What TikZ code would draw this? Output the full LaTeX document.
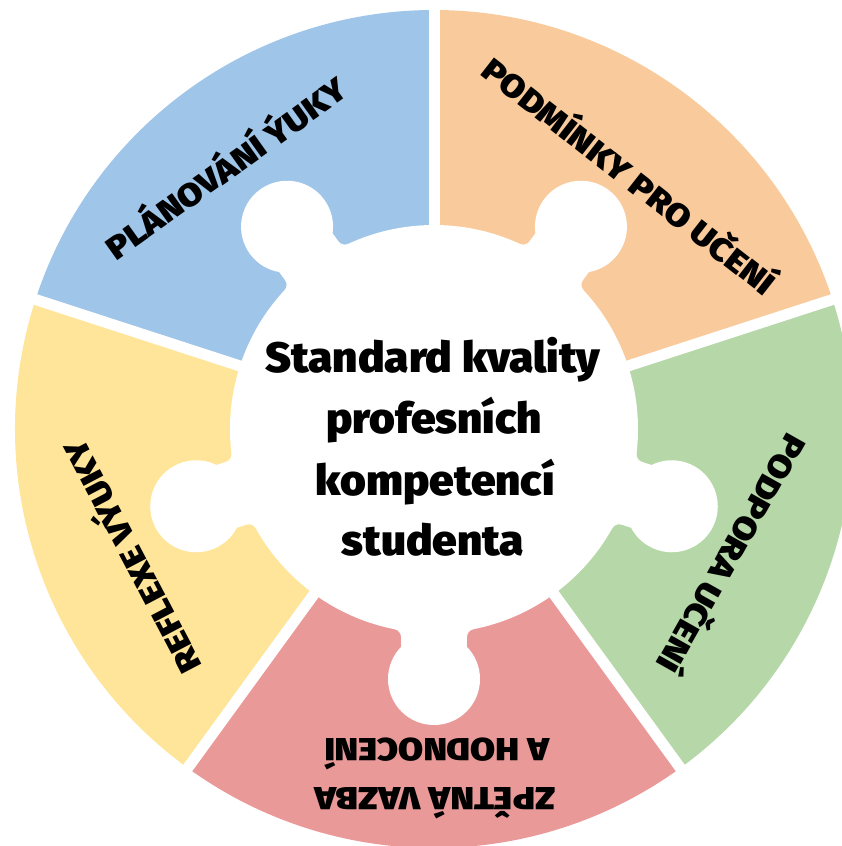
\documentclass[tikz,border=0pt]{standalone}
\usepackage{graphicx}
\usepackage{fontspec}
\IfFontExistsTF{Fira Sans Black}{\newfontfamily\hvfont{Fira Sans Black}}{%
  \IfFontExistsTF{Fira Sans Heavy}{\newfontfamily\hvfont{Fira Sans Heavy}}{%
    \newfontfamily\hvfont{Fira Sans}[UprightFont=* Bold]}}
\definecolor{cblue}{HTML}{9FC5E8}
\definecolor{corange}{HTML}{F9CB9C}
\definecolor{cgreen}{HTML}{B6D7A8}
\definecolor{cpink}{HTML}{EA9999}
\definecolor{cyellow}{HTML}{FFE599}
\newcommand{\wide}[1]{\scalebox{1.13}[1]{#1}}
\newcommand{\cwide}[1]{\scalebox{1.04}[1]{#1}}
\tikzset{
  lab/.style={font=\hvfont\fontsize{32}{32}\selectfont, inner sep=0pt, text height=22pt, text depth=0pt},
  ctr/.style={font=\hvfont\fontsize{42.5}{42.5}\selectfont, inner sep=0pt, anchor=base},
  gapline/.style={white, line width=11pt},
}
\begin{document}
\begin{tikzpicture}[x=1pt,y=1pt]
\useasboundingbox (0,0) rectangle (842,-846);
\clip (0,0) rectangle (842,-846);
\begin{scope}[shift={(434,-429)}]
\coordinate (O) at (0,0);
\fill[cblue]   (O) -- (90:419)   arc[start angle=90,  end angle=162,  radius=419] -- cycle;
\fill[corange] (O) -- (18:419)   arc[start angle=18,  end angle=90,   radius=419] -- cycle;
\fill[cgreen]  (O) -- (-54:419)  arc[start angle=-54, end angle=18,   radius=419] -- cycle;
\fill[cpink]   (O) -- (-126:419) arc[start angle=-126,end angle=-54,  radius=419] -- cycle;
\fill[cyellow] (O) -- (162:419)  arc[start angle=162, end angle=234,  radius=419] -- cycle;
\foreach \b in {90,18,-54,-126,162} \draw[gapline] (O) -- (\b:440);
\fill[white] (O) circle[radius=204];
\foreach \a in {126,54,-18,-90,-162}{
  \begin{scope}[rotate=\a]
    \fill[white] (250,0) circle[radius=46];
    \fill[white] (150,-33) rectangle (250,33);
    \fill[white] (195,33) -- (208,33) arc[start angle=270,end angle=191.2,radius=8] -- cycle;
    \fill[white] (195,-33) -- (208,-33) arc[start angle=90,end angle=168.8,radius=8] -- cycle;
  \end{scope}}
\end{scope}
\node[lab, rotate=35.5] (l1) at (227,-169) {\wide{PLÁNOVÁNÍ ÝUKY}};
\node[lab, rotate=-38] (l2) at (628.4,-176.7) {\wide{PODMÍNKY PRO UČENÍ}};
\node[lab, rotate=-119.4] (l3) at (731,-553) {\wide{PODPORA UČENÍ}};
\node[lab, rotate=180] (l4a) at (435,-798) {\wide{ZPĚTNÁ VAZBA}};
\node[lab, rotate=180] (l4b) at (437,-749.7) {\wide{A HODNOCENÍ}};
\node[lab, rotate=117.7] (l5) at (133,-556) {\wide{REFLEXE VÝUKY}};
\node[ctr] (c1) at (433,-372) {\cwide{Standard kvality}};
\node[ctr] (c2) at (434,-433) {\cwide{profesních}};
\node[ctr] (c3) at (435,-495) {\cwide{kompetencí}};
\node[ctr] (c4) at (433,-555) {\cwide{studenta}};
\end{tikzpicture}
\end{document}
